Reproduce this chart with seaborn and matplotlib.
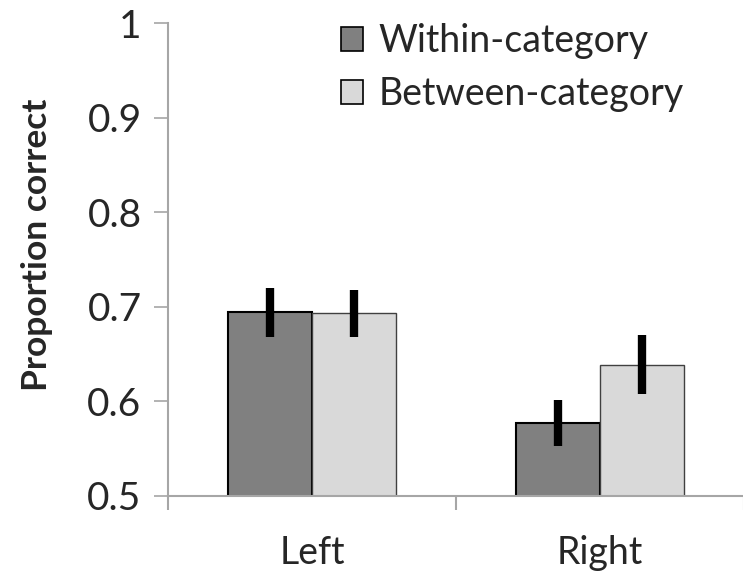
"""Proportion correct by visual field and category condition."""

import matplotlib
matplotlib.use("Agg")
import matplotlib.pyplot as plt
import pandas as pd
import seaborn as sns
from matplotlib.patches import Patch

# Données
sides = ["Left", "Right"]
conditions = ["Within-category", "Between-category"]
within_mean = [0.695, 0.577]
between_mean = [0.693, 0.639]
within_low = [0.668, 0.553]
within_high = [0.720, 0.601]
between_low = [0.668, 0.608]
between_high = [0.718, 0.670]
bar_colors = ["#808080", "#d9d9d9"]
edge_colors = ["#000000", "#404040"]

df = pd.DataFrame({
    "side": sides * 2,
    "condition": [conditions[0]] * 2 + [conditions[1]] * 2,
    "proportion": within_mean + between_mean,
})

sns.set_theme(style="white")
plt.rcParams["font.family"] = ["Lato", "DejaVu Sans"]

fig = plt.figure(figsize=(7.43, 5.75), dpi=100)
ax = fig.add_axes([0.2261, 0.1374, 0.7752, 0.8226])

sns.barplot(
    data=df,
    x="side",
    y="proportion",
    hue="condition",
    order=sides,
    hue_order=conditions,
    palette=bar_colors,
    width=0.583,
    gap=0,
    errorbar=None,
    legend=False,
    ax=ax,
)

# Bordures et barres d'erreur
lows = [within_low, between_low]
highs = [within_high, between_high]
for i, container in enumerate(ax.containers):
    for j, bar in enumerate(container):
        bar.set_edgecolor(edge_colors[i])
        bar.set_linewidth(1.5 if i == 0 else 1.0)
        xc = bar.get_x() + bar.get_width() / 2
        ax.vlines(xc, lows[i][j], highs[i][j], color="black", linewidth=6, zorder=5)

ax.set_ylim(0.5, 1.0)
ax.set_xlim(-0.5, 1.5)
ax.set_yticks([0.5, 0.6, 0.7, 0.8, 0.9, 1.0])
ax.set_yticklabels(["0.5", "0.6", "0.7", "0.8", "0.9", "1"])
ax.set_xticks([-0.5, 0.5, 1.5], minor=True)

for side in ["top", "right"]:
    ax.spines[side].set_visible(False)
for side in ["left", "bottom"]:
    ax.spines[side].set_color("#a6a6a6")
    ax.spines[side].set_linewidth(1.5)

ax.tick_params(axis="y", which="major", left=True, length=10, width=1.2,
               color="#a6a6a6", labelsize=28, pad=9)
ax.tick_params(axis="x", which="major", bottom=False, labelsize=27, pad=22)
ax.tick_params(axis="x", which="minor", bottom=True, length=10, width=1.5,
               color="#a6a6a6")

ax.set_xlabel("")
ax.set_ylabel("Proportion correct", fontsize=25.5, weight="bold")
ax.yaxis.set_label_coords(-0.2, 0.53)

handles = [
    Patch(facecolor=bar_colors[i], edgecolor="black", linewidth=1.2, label=conditions[i])
    for i in range(2)
]
ax.legend(
    handles=handles,
    loc="upper left",
    bbox_to_anchor=(0.30, 1.0),
    frameon=False,
    fontsize=27,
    handlelength=0.6,
    handleheight=0.6,
    handletextpad=0.4,
    labelspacing=0.45,
    borderpad=0,
    borderaxespad=0,
)

fig.savefig("out.png", dpi=100)
